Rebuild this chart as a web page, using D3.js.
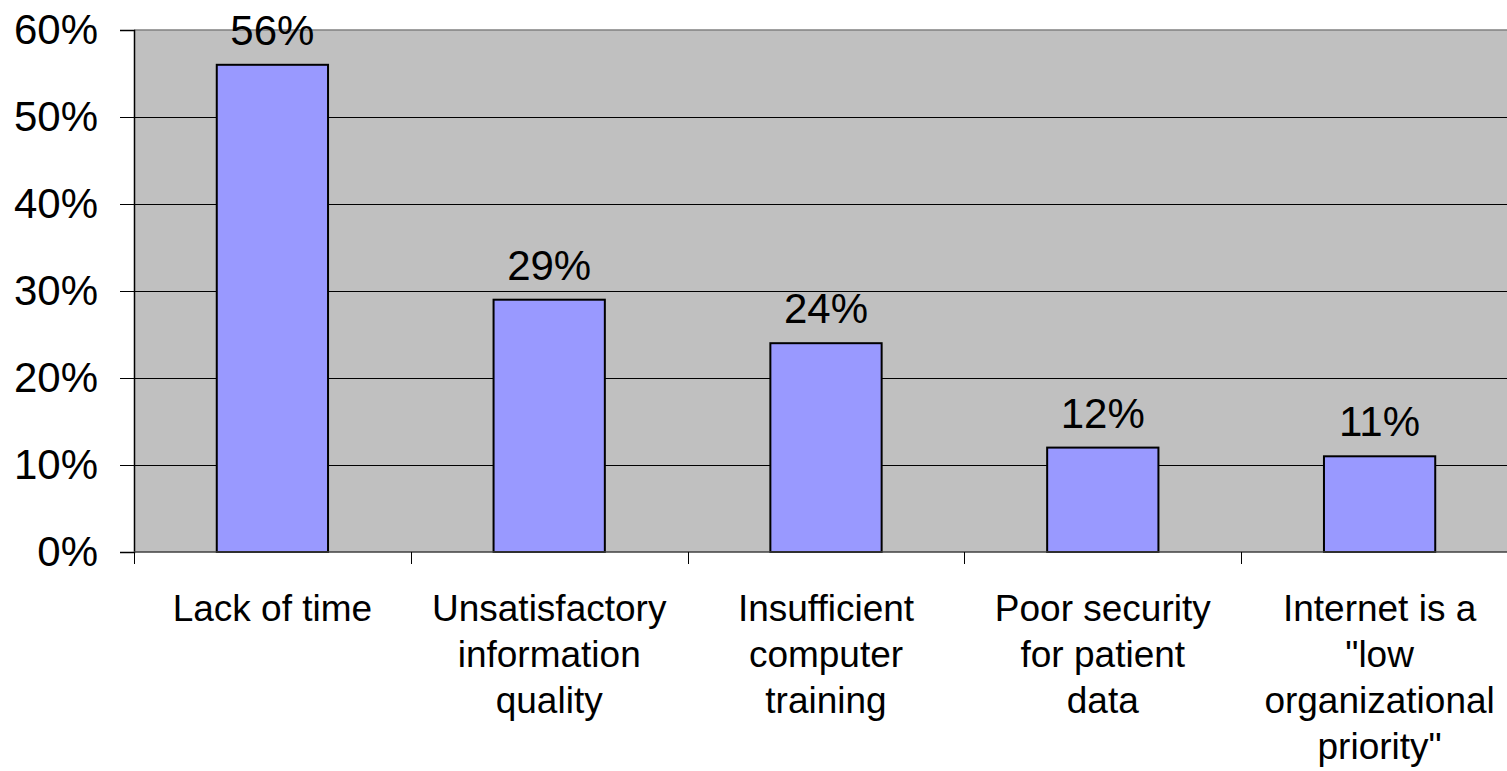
<!DOCTYPE html>
<html><head><meta charset="utf-8">
<script src="https://cdn.jsdelivr.net/npm/d3@7"></script>
<style>body{margin:0;background:#fff;overflow:hidden}text{font-family:"Liberation Sans",Arial,sans-serif}</style>
</head><body><svg id="c" width="1507" height="771"></svg>
<script>
const categories = [["Lack of time"],["Unsatisfactory","information","quality"],["Insufficient","computer","training"],["Poor security","for patient","data"],["Internet is a","\"low","organizational","priority\""]];
const values = [0.56,0.29,0.24,0.12,0.11];
const yTicks = [0,0.1,0.2,0.3,0.4,0.5,0.6];

const svg = d3.select("#c");
const L=134, T=30, B=552, band=276.8;
const R = L + band*categories.length;
const x = d3.scaleBand().domain(d3.range(categories.length)).range([L,R]).paddingInner(0).paddingOuter(0);
const y = d3.scaleLinear().domain([0,0.6]).range([B,T]);

svg.append("rect").attr("x",L).attr("y",T).attr("width",R-L).attr("height",B-T).attr("fill","#C0C0C0");
svg.append("line").attr("x1",L).attr("x2",R).attr("y1",T).attr("y2",T).attr("stroke","#808080").attr("stroke-width",1.5);
// gridlines
svg.selectAll(".g").data(yTicks.slice(1,-1)).enter().append("line")
  .attr("x1",L).attr("x2",R).attr("y1",d=>Math.round(y(d))+0.5).attr("y2",d=>Math.round(y(d))+0.5)
  .attr("stroke","#000").attr("stroke-width",1);

const bw = band*0.402;
svg.selectAll(".bar").data(values).enter().append("rect")
  .attr("x",(d,i)=>x(i)+band/2-bw/2).attr("y",d=>y(d)).attr("width",bw).attr("height",d=>B-y(d))
  .attr("fill","#9999FF").attr("stroke","#000").attr("stroke-width",2);

// y axis
const ya = svg.append("g").attr("transform",`translate(${L},0)`)
  .call(d3.axisLeft(y).tickValues(yTicks).tickFormat(d3.format(".0%")).tickSize(14).tickPadding(22));
ya.select(".domain").attr("stroke","#000").attr("stroke-width",1.5);
ya.selectAll(".tick line").attr("stroke","#000").attr("stroke-width",1);
ya.selectAll(".tick text").attr("font-size",42).attr("fill","#000").attr("font-family","Liberation Sans, Arial, sans-serif");

// x axis
svg.append("line").attr("x1",L).attr("x2",R).attr("y1",B).attr("y2",B).attr("stroke","#404040").attr("stroke-width",1.5);
svg.selectAll(".xt").data(d3.range(categories.length+1)).enter().append("line")
  .attr("x1",i=>Math.round(L+i*band)+0.5).attr("x2",i=>Math.round(L+i*band)+0.5).attr("y1",B).attr("y2",B+12)
  .attr("stroke","#000").attr("stroke-width",1);

const lab = svg.selectAll(".cl").data(categories).enter().append("text")
  .attr("text-anchor","middle").attr("font-size",37).attr("fill","#000");
lab.each(function(lines,i){
  const t=d3.select(this);
  lines.forEach((s,j)=>t.append("tspan").attr("x",x(i)+band/2).attr("y",621+j*46).text(s));
});

svg.selectAll(".vl").data(values).enter().append("text")
  .attr("x",(d,i)=>x(i)+band/2).attr("y",d=>y(d)-20).attr("text-anchor","middle")
  .attr("font-size",42).attr("fill","#000").text(d=>d3.format(".0%")(d));
</script></body></html>
